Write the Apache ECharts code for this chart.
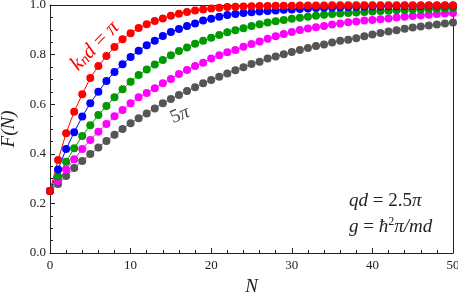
<!DOCTYPE html>
<html>
<head>
<meta charset="utf-8">
<script src="https://cdn.jsdelivr.net/npm/echarts@6/dist/echarts.min.js"></script>
<style>html,body{margin:0;padding:0;background:#fff}#c{width:458px;height:293px}</style>
</head>
<body>
<div id="c"></div>
<script>
var N = [0,1,2,3,4,5,6,7,8,9,10,11,12,13,14,15,16,17,18,19,20,21,22,23,24,25,26,27,28,29,30,31,32,33,34,35,36,37,38,39,40,41,42,43,44,45,46,47,48,49,50];
var redF = [0.25,0.375,0.483,0.570,0.640,0.706,0.754,0.794,0.831,0.862,0.886,0.907,0.922,0.935,0.946,0.957,0.965,0.972,0.978,0.982,0.986,0.989,0.992,0.993,0.994,0.995,0.996,0.996,0.997,0.997,0.997,0.998,0.998,0.998,0.998,0.999,0.999,0.999,0.999,0.999,0.999,0.999,0.999,0.999,0.999,0.999,0.999,0.999,0.999,0.999,0.999];
var blueF = [0.25,0.337,0.419,0.487,0.550,0.604,0.650,0.694,0.730,0.761,0.790,0.816,0.838,0.856,0.875,0.891,0.903,0.915,0.925,0.937,0.945,0.953,0.960,0.964,0.968,0.971,0.974,0.976,0.978,0.981,0.982,0.984,0.986,0.988,0.989,0.990,0.991,0.992,0.993,0.993,0.994,0.994,0.995,0.995,0.996,0.996,0.996,0.997,0.997,0.997,0.997];
var greenF = [0.25,0.308,0.368,0.422,0.472,0.515,0.556,0.593,0.628,0.660,0.691,0.718,0.740,0.760,0.778,0.797,0.815,0.829,0.844,0.856,0.868,0.879,0.890,0.898,0.906,0.915,0.922,0.929,0.934,0.940,0.945,0.949,0.953,0.957,0.961,0.964,0.966,0.968,0.970,0.972,0.974,0.976,0.977,0.979,0.980,0.982,0.983,0.984,0.985,0.986,0.987];
var magentaF = [0.25,0.290,0.337,0.378,0.419,0.456,0.489,0.520,0.551,0.577,0.604,0.628,0.645,0.664,0.684,0.702,0.722,0.738,0.754,0.767,0.784,0.797,0.809,0.819,0.832,0.843,0.853,0.864,0.874,0.883,0.891,0.899,0.905,0.910,0.915,0.921,0.925,0.930,0.933,0.937,0.940,0.943,0.946,0.950,0.953,0.956,0.958,0.961,0.964,0.966,0.968];
var grayF = [0.25,0.278,0.310,0.343,0.371,0.399,0.425,0.452,0.477,0.500,0.523,0.543,0.563,0.583,0.604,0.621,0.637,0.653,0.668,0.684,0.698,0.711,0.724,0.737,0.749,0.762,0.771,0.784,0.792,0.801,0.810,0.819,0.827,0.835,0.841,0.849,0.856,0.860,0.866,0.874,0.881,0.887,0.893,0.898,0.904,0.909,0.913,0.917,0.921,0.925,0.929];
var xTicks = [0,10,20,30,40,50];
var yTicks = [0.0,0.2,0.4,0.6,0.8,1.0];

var serif = '"Liberation Serif", "DejaVu Serif", serif';
function pairs(ys){ return N.map(function(n,i){ return [n, ys[i]]; }); }
function mk(name, ys, color){
  return {
    name: name, type: 'line', data: pairs(ys),
    symbol: 'circle', symbolSize: 8,
    lineStyle: {color: color, width: 1},
    itemStyle: {color: color},
    emphasis: {disabled: true},
    clip: false
  };
}
var chart = echarts.init(document.getElementById('c'), null, {renderer: 'canvas'});
chart.setOption({
  animation: false,
  backgroundColor: '#fff',
  grid: {left: 50, right: 5, top: 5, bottom: 40, containLabel: false, outerBoundsMode: 'none'},
  xAxis: [{
    type: 'value', min: 0, max: 50, interval: 10,
    name: 'N', nameLocation: 'middle', nameGap: 24,
    nameTextStyle: {fontFamily: serif, fontStyle: 'italic', fontSize: 19, color: '#222'},
    axisLine: {show: true, lineStyle: {color: '#222', width: 1}},
    axisTick: {show: true, inside: true, length: 5, lineStyle: {color: '#222'}},
    minorTick: {show: true, splitNumber: 5, length: 3, lineStyle: {color: '#222'}},
    axisLabel: {fontFamily: serif, fontSize: 13, color: '#222', margin: 6,
      formatter: function(v){ return xTicks.indexOf(v) >= 0 ? String(v) : ''; }},
    splitLine: {show: false}
  },{
    type: 'value', min: 0, max: 50, position: 'top',
    axisLine: {show: true, onZero: false, lineStyle: {color: '#222', width: 1}},
    axisTick: {show: false}, axisLabel: {show: false}, splitLine: {show: false}
  }],
  yAxis: [{
    type: 'value', min: 0, max: 1, interval: 0.2,
    name: 'F(N)', nameLocation: 'middle', nameGap: 30, nameRotate: 90,
    nameTextStyle: {fontFamily: serif, fontStyle: 'italic', fontSize: 19, color: '#222'},
    axisLine: {show: true, lineStyle: {color: '#222', width: 1}},
    axisTick: {show: true, inside: true, length: 5, lineStyle: {color: '#222'}},
    minorTick: {show: true, splitNumber: 4, length: 3, lineStyle: {color: '#222'}},
    axisLabel: {fontFamily: serif, fontSize: 13, color: '#222', margin: 4,
      formatter: function(v){ return v.toFixed(1); }},
    splitLine: {show: false}
  },{
    type: 'value', min: 0, max: 1, position: 'right',
    axisLine: {show: true, onZero: false, lineStyle: {color: '#222', width: 1}},
    axisTick: {show: false}, axisLabel: {show: false}, splitLine: {show: false}
  }],
  series: [
    mk('5π', grayF, '#555555'),
    mk('4π', magentaF, '#ff00ff'),
    mk('3π', greenF, '#009900'),
    mk('2π', blueF, '#0000ff'),
    mk('π', redF, '#ff0000')
  ],
  graphic: [
    {type: 'text', x: 95, y: 46, rotation: 46 * Math.PI / 180, z: 100,
      style: {text: '{i|k}{s|n}{i|d}{r| = }{i|π}', align: 'center', verticalAlign: 'middle', fill: '#ff0000',
        rich: {
          i: {fontFamily: serif, fontStyle: 'italic', fontSize: 21, fill: '#ff0000', height: 22},
          s: {fontFamily: serif, fontStyle: 'italic', fontSize: 15, fill: '#ff0000', height: 22, padding: [5,0,0,0]},
          r: {fontFamily: serif, fontSize: 21, fill: '#ff0000', height: 22}
        }}},
    {type: 'text', x: 180, y: 115, rotation: 22 * Math.PI / 180, z: 100,
      style: {text: '5{i|π}', align: 'center', verticalAlign: 'middle', fill: '#444',
        fontFamily: serif, fontSize: 19,
        rich: {i: {fontFamily: serif, fontStyle: 'italic', fontSize: 19, fill: '#444'}}}},
    {type: 'text', x: 349, y: 201, z: 100,
      style: {text: '{i|qd} = 2.5{i|π}', align: 'left', verticalAlign: 'middle', fill: '#222',
        fontFamily: serif, fontSize: 19,
        rich: {i: {fontFamily: serif, fontStyle: 'italic', fontSize: 19, fill: '#222'}}}},
    {type: 'text', x: 349, y: 227, z: 100,
      style: {text: '{i|g} = {i|ħ}{s|2}{i|π/md}', align: 'left', verticalAlign: 'middle', fill: '#222',
        fontFamily: serif, fontSize: 19,
        rich: {
          i: {fontFamily: serif, fontStyle: 'italic', fontSize: 19, fill: '#222', height: 20},
          s: {fontFamily: serif, fontSize: 12, fill: '#222', height: 20, padding: [0,0,10,0]}
        }}}
  ]
});
</script>
</body>
</html>
